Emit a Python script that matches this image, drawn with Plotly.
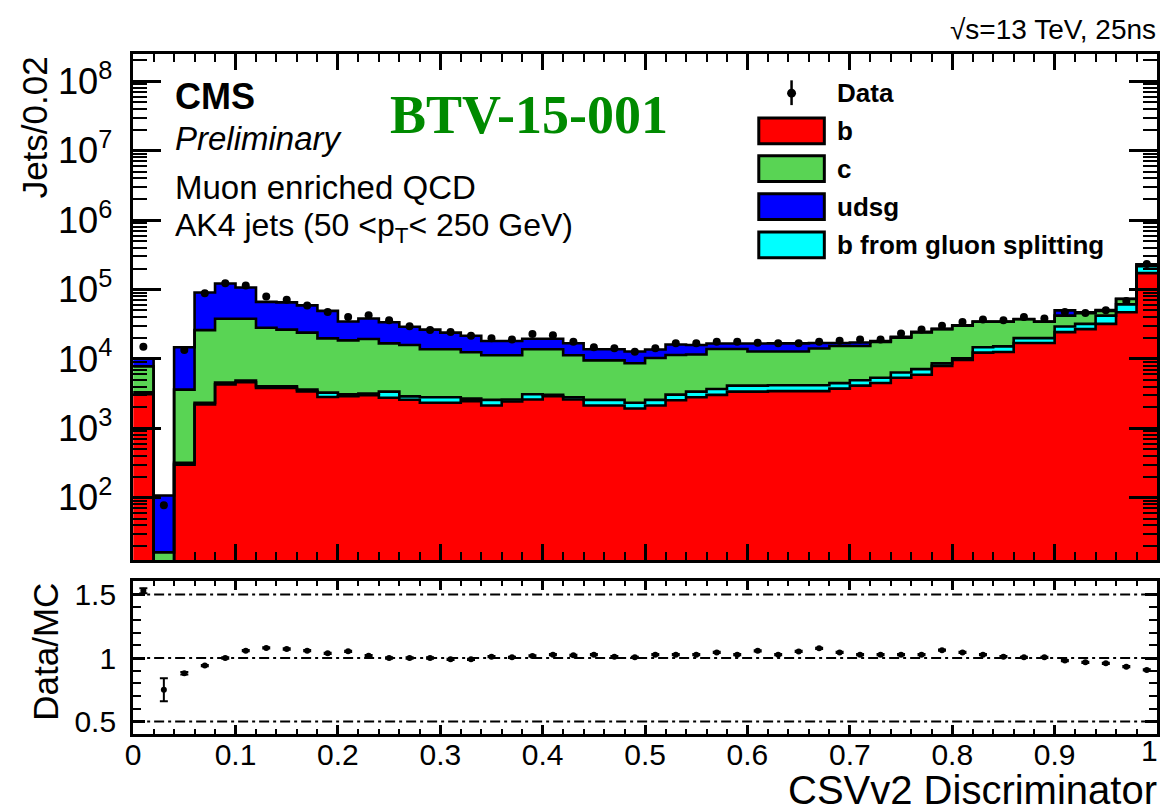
import numpy as np
import plotly.graph_objects as go

W, H = 1160, 812

# CSVv2 discriminator binning: 50 bins of width 0.02
edges = np.round(np.arange(51) * 0.02, 2)
centers = np.round(edges[:-1] + 0.01, 3)
x_ticks = [0, 0.1, 0.2, 0.3, 0.4, 0.5, 0.6, 0.7, 0.8, 0.9, 1]
x_tick_text = ["0", "0.1", "0.2", "0.3", "0.4", "0.5", "0.6", "0.7", "0.8", "0.9", "1"]

# Simulated jets per bin, by flavour
b_jets = [3100, 5, 300, 2200, 4300, 4600, 3800, 3800, 3400, 2820,
          2900, 3000, 2750, 2580, 2330, 2330, 2450, 2130, 2430, 2600,
          2890, 2600, 2130, 2130, 1930, 2130, 2540, 2800, 3030, 3380,
          3380, 3430, 3430, 3430, 3730, 4120, 4500, 5350, 5910, 7940,
          9680, 12300, 12590, 16930, 16930, 24300, 26830, 31940, 46930, 172000]
gsp_jets = [190, 0.3, 18, 130, 260, 280, 230, 230, 210, 450,
            180, 180, 630, 300, 470, 470, 230, 440, 165, 490,
            140, 200, 440, 440, 400, 440, 520, 580, 660, 735,
            735, 750, 750, 750, 740, 815, 850, 1020, 1210, 690,
            550, 2390, 2590, 3020, 3020, 5010, 5110, 10150, 14120, 45000]
c_jets = [4520, 11, 3290, 23630, 33370, 33050, 24150, 22350, 20310, 16490,
          15420, 16130, 13380, 12970, 11000, 11000, 9790, 8720, 8695, 10710,
          10770, 8490, 6950, 6950, 6320, 7760, 8340, 8210, 10210, 9785,
          8685, 8620, 8620, 9940, 10870, 10405, 12150, 13910, 17030, 18200,
          19880, 19650, 19160, 17300, 14390, 12780, 13480, 7200, 11950, 12000]
udsg_jets = [2420, 91, 11080, 64640, 83870, 68870, 38080, 38810, 35130, 29530,
             16180, 18820, 17030, 13280, 12580, 10120, 9050, 6790, 6790, 5750,
             5750, 5530, 4240, 4240, 4150, 3340, 4710, 4260, 2740, 2740,
             3840, 3960, 3960, 2810, 1590, 1870, 580, 550, 390, 260,
             480, 230, 230, 260, 230, 8030, 1510, 1320, 600, 2000]

# Observed jets per bin
data_jets = [14990, 78, 13450, 88500, 123000, 114000, 79400, 71200, 59000, 47400,
             40200, 42500, 36100, 29600, 26000, 24500, 21500, 19800, 19100, 22800,
             22000, 17700, 14700, 14200, 12700, 14200, 16800, 16800, 17700, 17700,
             17100, 16800, 16800, 17700, 18300, 19100, 19100, 23300, 26600, 30100,
             34100, 36900, 36100, 40200, 38100, 47400, 45800, 50100, 68100, 232800]

# Data/MC ratio and its uncertainty
ratio = [1.53, 0.75, 0.88, 0.94, 1.0, 1.058, 1.079, 1.071, 1.058, 1.037,
         1.053, 1.018, 1.0, 1.0, 1.0, 0.99, 0.99, 1.01, 1.005, 1.016,
         1.026, 1.021, 1.026, 1.01, 1.005, 1.026, 1.026, 1.026, 1.044, 1.026,
         1.057, 1.026, 1.052, 1.076, 1.044, 1.026, 1.026, 1.026, 1.026, 1.062,
         1.044, 1.026, 1.01, 1.005, 1.005, 0.98, 0.966, 0.958, 0.932, 0.906]
ratio_err = [0.02, 0.09, 0.01] + [0.005] * 47

FLAV_COLORS = {"b": "#ff0000", "gsp": "#00ffff", "c": "#59d454", "udsg": "#0000ff"}
FONT = "Liberation Sans, Arial, sans-serif"


def px(X):
    return X / W


def py(Y):
    return 1 - Y / H


def step(vals):
    return list(vals) + [vals[-1]]


layers = [
    ("b", np.array(b_jets, dtype=float)),
    ("gsp", np.array(gsp_jets, dtype=float)),
    ("c", np.array(c_jets, dtype=float)),
    ("udsg", np.array(udsg_jets, dtype=float)),
]
cum = []
running = np.zeros(50)
for name, vals in layers:
    running = running + vals
    cum.append((name, running.copy()))

fig = go.Figure()

# invisible floor below the axis range, used as base of the first fill
fig.add_trace(go.Scatter(x=edges, y=[1.0] * 51, mode="lines", line=dict(width=0),
                         hoverinfo="skip", showlegend=False, xaxis="x", yaxis="y"))
for name, tot in cum:
    fig.add_trace(go.Scatter(x=edges, y=step(tot), mode="lines", line_shape="hv",
                             line=dict(width=0), fill="tonexty",
                             fillcolor=FLAV_COLORS[name], showlegend=False,
                             hoverinfo="skip", xaxis="x", yaxis="y"))
# black step outlines of the stacked histograms
for name, tot in cum:
    fig.add_trace(go.Scatter(x=edges, y=step(tot), mode="lines", line_shape="hv",
                             line=dict(color="black", width=2.6), showlegend=False,
                             hoverinfo="skip", xaxis="x", yaxis="y"))

fig.add_trace(go.Scatter(x=centers, y=data_jets, mode="markers",
                         marker=dict(color="black", size=8), showlegend=False,
                         xaxis="x", yaxis="y"))

fig.add_trace(go.Scatter(x=centers, y=ratio, mode="markers",
                         marker=dict(color="black", size=6),
                         error_y=dict(type="data", array=ratio_err, color="black",
                                      thickness=2, width=4),
                         showlegend=False, xaxis="x2", yaxis="y2"))

xdom = [px(126), px(1157)]
frame = dict(showline=True, linecolor="black", linewidth=3, mirror="allticks",
             showgrid=False, zeroline=False, ticks="inside", tickcolor="black")

# the last label sits flush with the page edge, so it is placed as a note below
axis_labels = x_tick_text[:-1] + [""]

fig.update_layout(
    width=W, height=H, margin=dict(l=0, r=0, t=0, b=0),
    paper_bgcolor="white", plot_bgcolor="white",
    font=dict(family=FONT, color="black"),
    showlegend=False,
    xaxis=dict(domain=xdom, range=[0, 1], anchor="y", showticklabels=False,
               dtick=0.1, tick0=0, ticklen=16, tickwidth=2.5,
               minor=dict(dtick=0.02, ticklen=8, tickwidth=2, ticks="inside",
                          tickcolor="black"),
               **frame),
    yaxis=dict(domain=[py(562), py(51)], type="log", range=[1.1, 8.4], anchor="x",
               dtick=1, exponentformat="power", ticklen=28, tickwidth=2.5,
               tickfont=dict(size=29), ticklabelstandoff=12,
               minor=dict(dtick="D1", ticklen=14, tickwidth=2, ticks="inside",
                          tickcolor="black"),
               **frame),
    xaxis2=dict(domain=xdom, range=[0, 1], anchor="y2", tickmode="array",
                tickvals=x_ticks, ticktext=axis_labels,
                ticklen=9, tickwidth=2.5, tickfont=dict(size=30),
                ticklabelstandoff=-8,
                minor=dict(dtick=0.02, tick0=0, ticklen=5, tickwidth=2, ticks="inside",
                           tickcolor="black"),
                **frame),
    yaxis2=dict(domain=[py(737), py(583)], range=[0.404, 1.607], anchor="x2",
                tick0=0.5, dtick=0.5, ticklen=12, tickwidth=2.5,
                tickfont=dict(size=30), ticklabelstandoff=8,
                minor=dict(dtick=0.1, ticklen=8, tickwidth=2, ticks="inside",
                           tickcolor="black"),
                **frame),
)

shapes = []
# dash-dotted reference lines in the ratio panel
for level in (0.5, 1.0, 1.5):
    shapes.append(dict(type="line", xref="x2", yref="y2", x0=0, x1=1, y0=level, y1=level,
                       line=dict(color="black", width=2, dash="10px,4px,3px,4px")))

# legend symbols
shapes.append(dict(type="line", xref="paper", yref="paper", x0=px(789), x1=px(789),
                   y0=py(78), y1=py(103), line=dict(color="black", width=2.5)))
shapes.append(dict(type="circle", xref="paper", yref="paper", x0=px(784.5), x1=px(793.5),
                   y0=py(86.5), y1=py(95.5), fillcolor="black", line=dict(width=0)))
legend_rows = [(129, "b", "b"), (167, "c", "c"), (205.5, "udsg", "udsg"),
               (244, "gsp", "b from gluon splitting")]
for Y, key, label in legend_rows:
    shapes.append(dict(type="rect", xref="paper", yref="paper", x0=px(756), x1=px(822),
                       y0=py(Y + 13), y1=py(Y - 13), fillcolor=FLAV_COLORS[key],
                       line=dict(color="black", width=3)))
fig.update_layout(shapes=shapes)

ann = []


def text(X, Y, s, size, xanchor="left", yanchor="middle", angle=0, family=FONT,
         color="black"):
    ann.append(dict(x=px(X), y=py(Y), xref="paper", yref="paper", text=s,
                    showarrow=False, xanchor=xanchor, yanchor=yanchor, textangle=angle,
                    font=dict(size=size, family=family, color=color)))


text(833, 91, "<b>Data</b>", 26)
for Y, key, label in legend_rows:
    text(833, Y, "<b>%s</b>" % label, 26)

text(166, 94, "<b>CMS</b>", 36)
text(166, 137, "<i>Preliminary</i>", 33)
text(166, 186, "Muon enriched QCD", 33)
text(166, 226, "AK4 jets (50 &lt;p<sub>T</sub>&lt; 250 GeV)", 32)
text(383, 113, "<b>BTV-15-001</b>", 54, family="Liberation Serif, Times New Roman, serif",
     color="#008a00")
text(1158, 27, "√s=13 TeV, 25ns", 28, xanchor="right")

text(1160, 754, x_tick_text[-1], 30, xanchor="right")

text(27, 52, "Jets/0.02", 35, xanchor="center", yanchor="top", angle=-90)
text(38, 583, "Data/MC", 35, xanchor="center", yanchor="top", angle=-90)
text(1159, 794, "CSVv2 Discriminator", 40, xanchor="right")
fig.update_layout(annotations=ann)

fig.write_html("out.html")
